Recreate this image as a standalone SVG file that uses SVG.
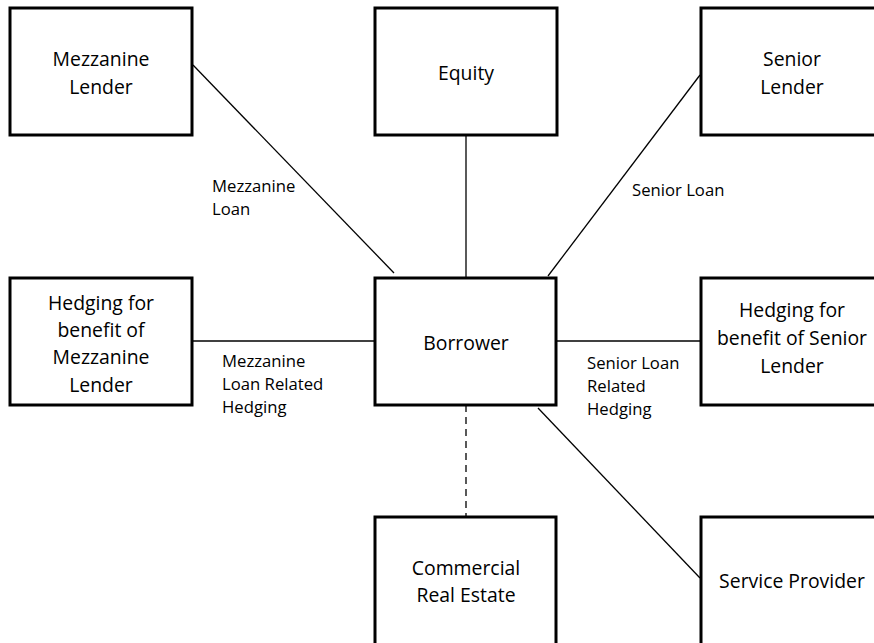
<svg xmlns="http://www.w3.org/2000/svg" width="874" height="643" viewBox="0 0 874 643">
<style>
.box{fill:#fff;stroke:#000;stroke-width:3}
.t{font-family:"Open Sans","Noto Sans",sans-serif;font-size:19.4px;fill:#000;text-anchor:middle}
.l{font-family:"Open Sans","Noto Sans",sans-serif;font-size:16.7px;fill:#000}
.c{stroke:#000;stroke-width:1.3;fill:none}
</style>
<rect width="874" height="643" fill="#fff"/>
<g id="connectors">
<line class="c" x1="193" y1="65" x2="394" y2="273"/>
<line class="c" x1="466" y1="135" x2="466" y2="278"/>
<line class="c" x1="700" y1="75" x2="548" y2="276"/>
<line class="c" x1="192" y1="341" x2="375" y2="341"/>
<line class="c" x1="556" y1="341" x2="701" y2="341"/>
<line class="c" x1="466" y1="405" x2="466" y2="516" stroke-dasharray="7,5"/>
<line class="c" x1="538" y1="408" x2="700" y2="578"/>
</g>
<g id="labels">
<text class="l" x="212" y="192">Mezzanine<tspan x="212" y="215">Loan</tspan></text>
<text class="l" x="632" y="196">Senior Loan</text>
<text class="l" x="222" y="367">Mezzanine<tspan x="222" y="390">Loan Related</tspan><tspan x="222" y="413">Hedging</tspan></text>
<text class="l" x="587" y="369">Senior Loan<tspan x="587" y="392">Related</tspan><tspan x="587" y="415">Hedging</tspan></text>
</g>
<g id="mezzanine-lender">
<rect class="box" x="10" y="8" width="182" height="127"/>
<text class="t" x="101" y="66">Mezzanine<tspan x="101" y="94">Lender</tspan></text>
</g>
<g id="equity">
<rect class="box" x="375" y="8" width="182" height="127"/>
<text class="t" x="466" y="80">Equity</text>
</g>
<g id="senior-lender">
<rect class="box" x="701" y="8" width="182" height="127"/>
<text class="t" x="792" y="66">Senior<tspan x="792" y="94">Lender</tspan></text>
</g>
<g id="hedging-mezzanine">
<rect class="box" x="10" y="278" width="182" height="127"/>
<text class="t" x="101" y="310">Hedging for<tspan x="101" y="337">benefit of</tspan><tspan x="101" y="364">Mezzanine</tspan><tspan x="101" y="392">Lender</tspan></text>
</g>
<g id="borrower">
<rect class="box" x="375" y="278" width="181" height="127"/>
<text class="t" x="466" y="350">Borrower</text>
</g>
<g id="hedging-senior">
<rect class="box" x="701" y="278" width="182" height="127"/>
<text class="t" x="792" y="317">Hedging for<tspan x="792" y="345">benefit of Senior</tspan><tspan x="792" y="373">Lender</tspan></text>
</g>
<g id="commercial-real-estate">
<rect class="box" x="375" y="517" width="181" height="140"/>
<text class="t" x="466" y="575">Commercial<tspan x="466" y="602">Real Estate</tspan></text>
</g>
<g id="service-provider">
<rect class="box" x="701" y="517" width="182" height="140"/>
<text class="t" x="792" y="588">Service Provider</text>
</g>
</svg>
